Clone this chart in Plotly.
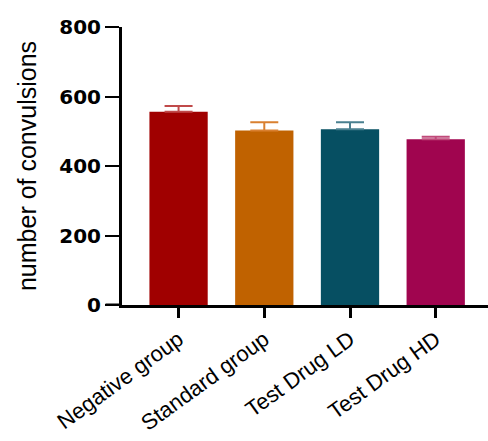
import plotly.graph_objects as go

# Group labels and measured means with upward SEM
groups = ["Negative group", "Standard group", "Test Drug LD", "Test Drug HD"]
means = [556, 502, 506, 477]
sem = [17, 24, 20, 7]
bar_colors = ["#A00000", "#C06200", "#064F62", "#A0054F"]
err_colors = ["#C04A4A", "#D98030", "#4A8090", "#C04A7A"]

y_ticks = [0, 200, 400, 600, 800]

fig = go.Figure()
for g, m, s, c, ec in zip(groups, means, sem, bar_colors, err_colors):
    fig.add_trace(go.Bar(
        x=[g], y=[m],
        marker=dict(color=c, line=dict(width=0)),
        width=0.68,
        error_y=dict(type="data", array=[s], arrayminus=[0], symmetric=False,
                     color=ec, thickness=2, width=14),
        showlegend=False,
    ))

fig.update_layout(
    width=488, height=441,
    margin=dict(l=122, r=0, t=27, b=136),
    paper_bgcolor="white", plot_bgcolor="white",
    font=dict(family="Liberation Sans, Arial, sans-serif", color="black"),
    bargap=0.32,
    # baseline extends left to meet the 0 tick
    shapes=[dict(type="line", xref="paper", yref="y", x0=-0.045, x1=0,
                 y0=0, y1=0, line=dict(color="black", width=3))],
)
fig.update_xaxes(
    range=[-0.66, 3.61],
    automargin=False,
    showline=True, linecolor="black", linewidth=3,
    ticks="outside", ticklen=10, tickwidth=3, tickcolor="black",
    tickangle=-36,
    tickfont=dict(size=22, family="Liberation Sans, Arial, sans-serif"),
    showgrid=False, zeroline=False,
)
fig.update_yaxes(
    range=[0, 800],
    automargin=False,
    tickvals=y_ticks,
    showline=True, linecolor="black", linewidth=3,
    ticks="outside", ticklen=14, tickwidth=2, tickcolor="black",
    tickfont=dict(size=20, family="DejaVu Sans, sans-serif", weight="bold"),
    title=dict(text="number of convulsions", font=dict(size=25), standoff=16),
    showgrid=False, zeroline=False,
)

fig.write_html("out.html")
